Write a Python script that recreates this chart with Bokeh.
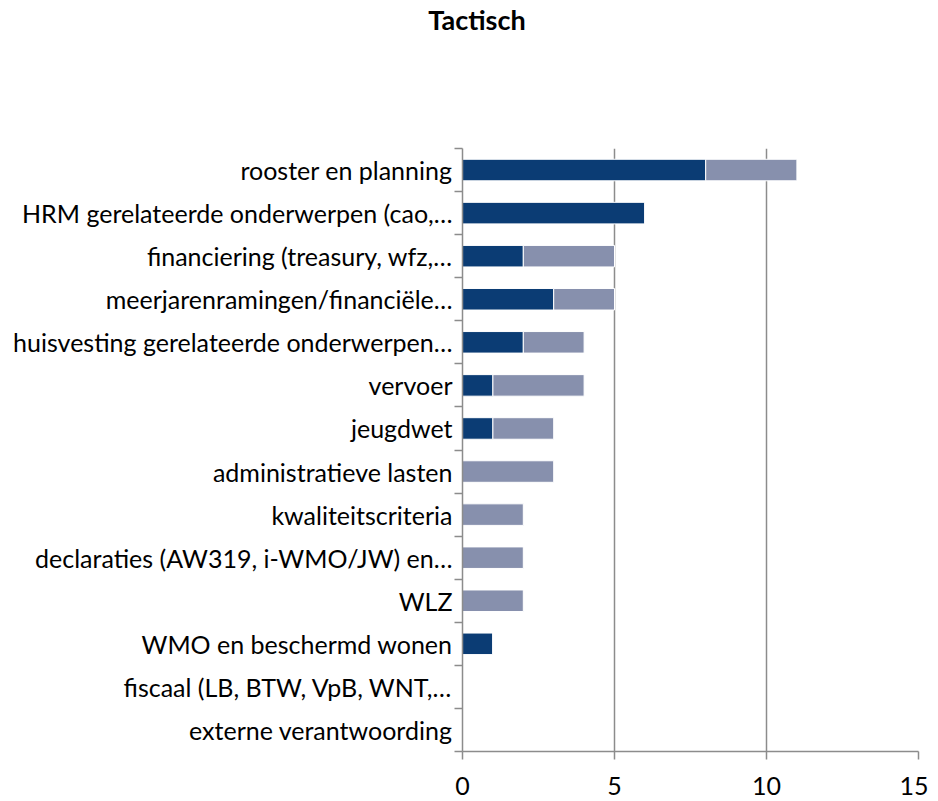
from bokeh.plotting import figure
from bokeh.models import FixedTicker, LinearAxis, Range1d, ColumnDataSource, Div
from bokeh.layouts import column
from bokeh.embed import file_html
from bokeh.resources import INLINE

title_text = "Tactisch"
categories = [
    "rooster en planning",
    "HRM gerelateerde onderwerpen (cao,…",
    "financiering (treasury, wfz,…",
    "meerjarenramingen/financiële…",
    "huisvesting gerelateerde onderwerpen…",
    "vervoer",
    "jeugdwet",
    "administratieve lasten",
    "kwaliteitscriteria",
    "declaraties (AW319, i-WMO/JW) en…",
    "WLZ",
    "WMO en beschermd wonen",
    "fiscaal (LB, BTW, VpB, WNT,…",
    "externe verantwoording",
]
dark_values = [8, 6, 2, 3, 2, 1, 1, 0, 0, 0, 0, 1, 0, 0]
light_values = [3, 0, 3, 2, 2, 3, 2, 3, 2, 2, 2, 0, 0, 0]
x_ticks = [0, 5, 10, 15]

DARK = "#0B3C74"
LIGHT = "#8790AD"
GRID = "#8C8C8C"
FONT = "Lato"

n = len(categories)
ypos = [n - 1 - i for i in range(n)]
src = ColumnDataSource(dict(
    y=ypos,
    d=dark_values,
    total=[a + b for a, b in zip(dark_values, light_values)],
))

TITLE_H = 30
TOTAL_H = 793

p = figure(width=928, height=TOTAL_H - TITLE_H, output_backend="svg", toolbar_location=None,
           x_range=Range1d(0, 15), y_range=Range1d(-0.5, n - 0.5),
           min_border_left=462, min_border_right=10, min_border_top=138 - TITLE_H,
           min_border_bottom=52, x_axis_location=None, y_axis_location=None)
p.outline_line_color = None
p.background_fill_color = "white"

p.hbar(y="y", left=0, right="d", height=0.5, source=src,
       fill_color=DARK, line_color="white", line_width=1)
p.hbar(y="y", left="d", right="total", height=0.5, source=src,
       fill_color=LIGHT, line_color="white", line_width=1)

# x axis
xa = LinearAxis(ticker=FixedTicker(ticks=x_ticks))
xa.axis_line_color = GRID
xa.axis_line_width = 1.5
xa.major_tick_line_color = GRID
xa.major_tick_line_width = 1.5
xa.major_tick_out = 8
xa.major_tick_in = 0
xa.minor_tick_line_color = None
xa.major_label_standoff = 17
xa.major_label_text_font = FONT
xa.major_label_text_font_size = "25px"
xa.major_label_text_color = "black"
p.add_layout(xa, "below")

# y axis: labels at centers, tick marks at boundaries
ya = LinearAxis(ticker=FixedTicker(ticks=ypos, minor_ticks=[i - 0.5 for i in range(n + 1)]))
ya.major_label_overrides = {y: c for y, c in zip(ypos, categories)}
ya.axis_line_color = GRID
ya.axis_line_width = 1.5
ya.major_tick_line_color = None
ya.major_tick_out = 0
ya.major_tick_in = 0
ya.minor_tick_line_color = GRID
ya.minor_tick_line_width = 1.5
ya.minor_tick_out = 8
ya.minor_tick_in = 0
ya.major_label_standoff = 2
ya.major_label_text_font = FONT
ya.major_label_text_font_size = "25px"
ya.major_label_text_color = "black"
p.add_layout(ya, "left")

p.xgrid.ticker = FixedTicker(ticks=x_ticks)
p.xgrid.grid_line_color = GRID
p.xgrid.grid_line_width = 1.5
p.ygrid.grid_line_color = None
p.grid.level = "underlay"

title = Div(text=title_text, width=928, height=TITLE_H,
            styles={"font-family": "Lato", "font-size": "27px", "font-weight": "bold",
                    "color": "black", "text-align": "center", "line-height": "30px",
                    "text-indent": "16px"})

layout = column(title, p, spacing=0)

open("out.html", "w").write(file_html(layout, INLINE))
